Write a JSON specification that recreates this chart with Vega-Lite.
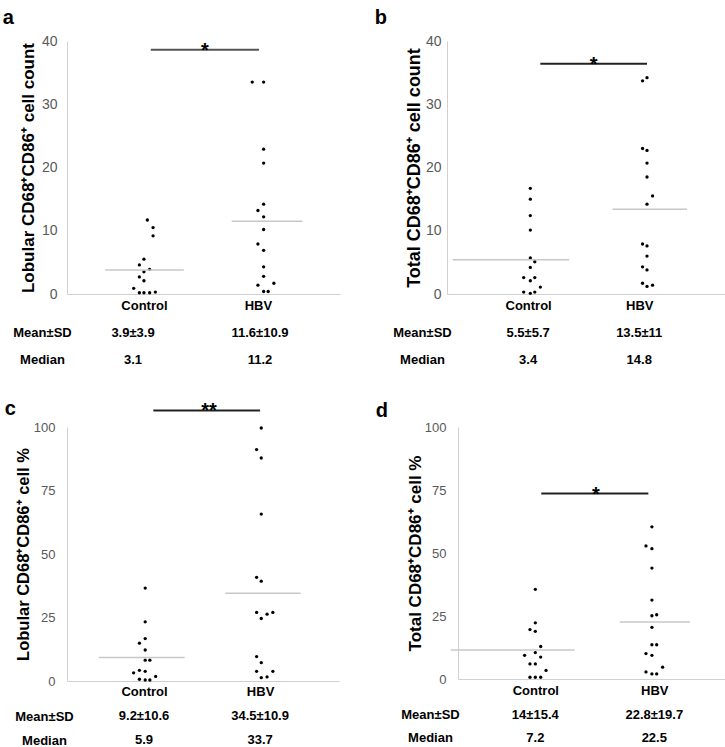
{
  "$schema": "https://vega.github.io/schema/vega-lite/v6.json",
  "padding": {"left": 2, "top": 8, "right": 0, "bottom": 0},
  "background": "white",
  "config": {
    "font": "Liberation Sans",
    "view": {"stroke": null},
    "axis": {"grid": false, "ticks": false, "tickSize": 0, "domainColor": "#d0d0d0", "domainWidth": 1, "labelColor": "#595959", "labelFont": "Liberation Sans", "titleFont": "Liberation Sans"},
    "title": {"font": "Liberation Sans", "fontWeight": "bold", "fontSize": 20, "anchor": "start", "color": "black"}
  },
  "datasets": {
    "points": [
      {"panel": "a", "group": "Control", "pos": 1.03, "value": 11.7},
      {"panel": "a", "group": "Control", "pos": 1.08, "value": 10.5},
      {"panel": "a", "group": "Control", "pos": 1.08, "value": 9.2},
      {"panel": "a", "group": "Control", "pos": 1.0, "value": 5.5},
      {"panel": "a", "group": "Control", "pos": 0.96, "value": 4.6},
      {"panel": "a", "group": "Control", "pos": 1.05, "value": 3.9},
      {"panel": "a", "group": "Control", "pos": 1.0, "value": 3.5},
      {"panel": "a", "group": "Control", "pos": 0.96, "value": 2.7},
      {"panel": "a", "group": "Control", "pos": 1.0, "value": 2.1},
      {"panel": "a", "group": "Control", "pos": 0.91, "value": 0.9},
      {"panel": "a", "group": "Control", "pos": 0.96, "value": 0.2},
      {"panel": "a", "group": "Control", "pos": 1.0, "value": 0.2},
      {"panel": "a", "group": "Control", "pos": 1.05, "value": 0.2},
      {"panel": "a", "group": "Control", "pos": 1.1, "value": 0.3},
      {"panel": "a", "group": "HBV", "pos": 1.95, "value": 33.5},
      {"panel": "a", "group": "HBV", "pos": 2.05, "value": 33.5},
      {"panel": "a", "group": "HBV", "pos": 2.05, "value": 22.9},
      {"panel": "a", "group": "HBV", "pos": 2.05, "value": 20.7},
      {"panel": "a", "group": "HBV", "pos": 2.05, "value": 14.2},
      {"panel": "a", "group": "HBV", "pos": 2.0, "value": 13.2},
      {"panel": "a", "group": "HBV", "pos": 2.05, "value": 12.2},
      {"panel": "a", "group": "HBV", "pos": 2.05, "value": 10.2},
      {"panel": "a", "group": "HBV", "pos": 2.0, "value": 7.9},
      {"panel": "a", "group": "HBV", "pos": 2.05, "value": 6.9},
      {"panel": "a", "group": "HBV", "pos": 2.05, "value": 4.3},
      {"panel": "a", "group": "HBV", "pos": 2.05, "value": 2.8},
      {"panel": "a", "group": "HBV", "pos": 2.0, "value": 1.4},
      {"panel": "a", "group": "HBV", "pos": 2.14, "value": 1.7},
      {"panel": "a", "group": "HBV", "pos": 2.05, "value": 0.4},
      {"panel": "a", "group": "HBV", "pos": 2.09, "value": 0.4},
      {"panel": "b", "group": "Control", "pos": 1.02, "value": 16.7},
      {"panel": "b", "group": "Control", "pos": 1.02, "value": 15.0},
      {"panel": "b", "group": "Control", "pos": 1.02, "value": 12.4},
      {"panel": "b", "group": "Control", "pos": 1.02, "value": 10.1},
      {"panel": "b", "group": "Control", "pos": 1.02, "value": 5.7},
      {"panel": "b", "group": "Control", "pos": 1.06, "value": 5.1},
      {"panel": "b", "group": "Control", "pos": 1.02, "value": 4.2},
      {"panel": "b", "group": "Control", "pos": 0.96, "value": 2.6},
      {"panel": "b", "group": "Control", "pos": 1.06, "value": 2.6},
      {"panel": "b", "group": "Control", "pos": 1.02, "value": 2.1},
      {"panel": "b", "group": "Control", "pos": 1.11, "value": 1.1},
      {"panel": "b", "group": "Control", "pos": 0.96, "value": 0.3},
      {"panel": "b", "group": "Control", "pos": 1.02, "value": 0.1},
      {"panel": "b", "group": "Control", "pos": 1.06, "value": 0.3},
      {"panel": "b", "group": "HBV", "pos": 2.07, "value": 34.2},
      {"panel": "b", "group": "HBV", "pos": 2.03, "value": 33.7},
      {"panel": "b", "group": "HBV", "pos": 2.03, "value": 23.0},
      {"panel": "b", "group": "HBV", "pos": 2.07, "value": 22.7},
      {"panel": "b", "group": "HBV", "pos": 2.07, "value": 20.7},
      {"panel": "b", "group": "HBV", "pos": 2.07, "value": 18.5},
      {"panel": "b", "group": "HBV", "pos": 2.12, "value": 15.5},
      {"panel": "b", "group": "HBV", "pos": 2.07, "value": 14.2},
      {"panel": "b", "group": "HBV", "pos": 2.03, "value": 7.9},
      {"panel": "b", "group": "HBV", "pos": 2.07, "value": 7.6},
      {"panel": "b", "group": "HBV", "pos": 2.07, "value": 6.0},
      {"panel": "b", "group": "HBV", "pos": 2.03, "value": 4.3},
      {"panel": "b", "group": "HBV", "pos": 2.07, "value": 3.8},
      {"panel": "b", "group": "HBV", "pos": 2.03, "value": 1.7},
      {"panel": "b", "group": "HBV", "pos": 2.07, "value": 1.2},
      {"panel": "b", "group": "HBV", "pos": 2.12, "value": 1.4},
      {"panel": "c", "group": "Control", "pos": 1.01, "value": 36.6},
      {"panel": "c", "group": "Control", "pos": 1.01, "value": 23.3},
      {"panel": "c", "group": "Control", "pos": 1.01, "value": 16.7},
      {"panel": "c", "group": "Control", "pos": 0.96, "value": 14.9},
      {"panel": "c", "group": "Control", "pos": 1.01, "value": 12.2},
      {"panel": "c", "group": "Control", "pos": 1.01, "value": 8.2},
      {"panel": "c", "group": "Control", "pos": 1.05, "value": 8.2},
      {"panel": "c", "group": "Control", "pos": 0.91, "value": 3.2},
      {"panel": "c", "group": "Control", "pos": 0.96, "value": 4.2},
      {"panel": "c", "group": "Control", "pos": 1.01, "value": 3.8},
      {"panel": "c", "group": "Control", "pos": 0.96, "value": 0.7},
      {"panel": "c", "group": "Control", "pos": 1.01, "value": 0.4},
      {"panel": "c", "group": "Control", "pos": 1.05, "value": 0.4},
      {"panel": "c", "group": "Control", "pos": 1.1, "value": 1.8},
      {"panel": "c", "group": "HBV", "pos": 2.01, "value": 99.6},
      {"panel": "c", "group": "HBV", "pos": 1.97, "value": 91.1},
      {"panel": "c", "group": "HBV", "pos": 2.01, "value": 87.8},
      {"panel": "c", "group": "HBV", "pos": 2.01, "value": 65.7},
      {"panel": "c", "group": "HBV", "pos": 1.97, "value": 40.8},
      {"panel": "c", "group": "HBV", "pos": 2.01, "value": 39.3},
      {"panel": "c", "group": "HBV", "pos": 1.97, "value": 27.0},
      {"panel": "c", "group": "HBV", "pos": 2.01, "value": 24.6},
      {"panel": "c", "group": "HBV", "pos": 2.06, "value": 26.3},
      {"panel": "c", "group": "HBV", "pos": 2.11, "value": 27.0},
      {"panel": "c", "group": "HBV", "pos": 1.97, "value": 9.6},
      {"panel": "c", "group": "HBV", "pos": 2.01, "value": 7.2},
      {"panel": "c", "group": "HBV", "pos": 1.97, "value": 3.8},
      {"panel": "c", "group": "HBV", "pos": 2.01, "value": 1.3},
      {"panel": "c", "group": "HBV", "pos": 2.06, "value": 1.6},
      {"panel": "c", "group": "HBV", "pos": 2.11, "value": 3.8},
      {"panel": "d", "group": "Control", "pos": 1.0, "value": 35.6},
      {"panel": "d", "group": "Control", "pos": 1.0, "value": 22.3},
      {"panel": "d", "group": "Control", "pos": 0.955, "value": 19.6},
      {"panel": "d", "group": "Control", "pos": 1.0, "value": 18.9},
      {"panel": "d", "group": "Control", "pos": 1.045, "value": 12.9},
      {"panel": "d", "group": "Control", "pos": 1.0, "value": 10.5},
      {"panel": "d", "group": "Control", "pos": 0.91, "value": 9.4},
      {"panel": "d", "group": "Control", "pos": 1.045, "value": 8.7},
      {"panel": "d", "group": "Control", "pos": 0.955, "value": 6.0},
      {"panel": "d", "group": "Control", "pos": 1.0, "value": 6.0},
      {"panel": "d", "group": "Control", "pos": 1.09, "value": 3.4},
      {"panel": "d", "group": "Control", "pos": 0.955, "value": 0.7},
      {"panel": "d", "group": "Control", "pos": 1.0, "value": 0.7},
      {"panel": "d", "group": "Control", "pos": 1.045, "value": 0.7},
      {"panel": "d", "group": "HBV", "pos": 1.98, "value": 60.4},
      {"panel": "d", "group": "HBV", "pos": 1.93, "value": 52.8},
      {"panel": "d", "group": "HBV", "pos": 1.98, "value": 51.7},
      {"panel": "d", "group": "HBV", "pos": 1.98, "value": 44.0},
      {"panel": "d", "group": "HBV", "pos": 1.98, "value": 31.3},
      {"panel": "d", "group": "HBV", "pos": 1.98, "value": 25.1},
      {"panel": "d", "group": "HBV", "pos": 2.02, "value": 25.5},
      {"panel": "d", "group": "HBV", "pos": 1.98, "value": 20.5},
      {"panel": "d", "group": "HBV", "pos": 1.98, "value": 13.6},
      {"panel": "d", "group": "HBV", "pos": 2.02, "value": 13.6},
      {"panel": "d", "group": "HBV", "pos": 1.93, "value": 10.1},
      {"panel": "d", "group": "HBV", "pos": 1.98, "value": 9.4},
      {"panel": "d", "group": "HBV", "pos": 1.93, "value": 2.8},
      {"panel": "d", "group": "HBV", "pos": 1.98, "value": 2.0},
      {"panel": "d", "group": "HBV", "pos": 2.02, "value": 2.0},
      {"panel": "d", "group": "HBV", "pos": 2.07, "value": 4.7}
    ],
    "means": [
      {"panel": "a", "group": "Control", "x1": 0.66, "x2": 1.35, "mean": 3.8},
      {"panel": "a", "group": "HBV", "x1": 1.77, "x2": 2.39, "mean": 11.5},
      {"panel": "b", "group": "Control", "x1": 0.32, "x2": 1.37, "mean": 5.4},
      {"panel": "b", "group": "HBV", "x1": 1.76, "x2": 2.43, "mean": 13.4},
      {"panel": "c", "group": "Control", "x1": 0.61, "x2": 1.35, "mean": 9.3},
      {"panel": "c", "group": "HBV", "x1": 1.70, "x2": 2.35, "mean": 34.5},
      {"panel": "d", "group": "Control", "x1": 0.29, "x2": 1.33, "mean": 11.5},
      {"panel": "d", "group": "HBV", "x1": 1.71, "x2": 2.30, "mean": 22.6}
    ],
    "sig": [
      {"panel": "a", "x1": 1.06, "x2": 2.01, "mid": 1.535, "y": 38.6, "label": "*"},
      {"panel": "b", "x1": 1.11, "x2": 2.07, "mid": 1.59, "y": 36.4, "label": "*"},
      {"panel": "c", "x1": 1.08, "x2": 2.0, "mid": 1.56, "y": 106.5, "label": "**"},
      {"panel": "d", "x1": 1.05, "x2": 1.95, "mid": 1.51, "y": 73.6, "label": "*"}
    ],
    "table": [
      {"panel": "a", "stat": "Mean±SD", "grp": 1, "text": "3.9±3.9"},
      {"panel": "a", "stat": "Mean±SD", "grp": 2, "text": "11.6±10.9"},
      {"panel": "a", "stat": "Median", "grp": 1, "text": "3.1"},
      {"panel": "a", "stat": "Median", "grp": 2, "text": "11.2"},
      {"panel": "b", "stat": "Mean±SD", "grp": 1, "text": "5.5±5.7"},
      {"panel": "b", "stat": "Mean±SD", "grp": 2, "text": "13.5±11"},
      {"panel": "b", "stat": "Median", "grp": 1, "text": "3.4"},
      {"panel": "b", "stat": "Median", "grp": 2, "text": "14.8"},
      {"panel": "c", "stat": "Mean±SD", "grp": 1, "text": "9.2±10.6"},
      {"panel": "c", "stat": "Mean±SD", "grp": 2, "text": "34.5±10.9"},
      {"panel": "c", "stat": "Median", "grp": 1, "text": "5.9"},
      {"panel": "c", "stat": "Median", "grp": 2, "text": "33.7"},
      {"panel": "d", "stat": "Mean±SD", "grp": 1, "text": "14±15.4"},
      {"panel": "d", "stat": "Mean±SD", "grp": 2, "text": "22.8±19.7"},
      {"panel": "d", "stat": "Median", "grp": 1, "text": "7.2"},
      {"panel": "d", "stat": "Median", "grp": 2, "text": "22.5"}
    ]
  },
  "spacing": 26,
  "vconcat": [
    {
      "spacing": 34,
      "hconcat": [
        {
          "title": {"text": "a", "dx": -10, "offset": 6},
          "spacing": 7,
          "vconcat": [
            {
              "width": 273, "height": 253,
              "layer": [
                {"data": {"name": "points"}, "transform": [{"filter": "datum.panel == 'a'"}],
                 "mark": {"type": "circle", "size": 11, "color": "black", "opacity": 1},
                 "encoding": {
                   "x": {"field": "pos", "type": "quantitative", "scale": {"domain": [0.325, 2.72], "nice": false, "zero": false},
                         "axis": {"title": null, "values": [1, 2], "labelExpr": "datum.value == 1 ? 'Control' : 'HBV'", "labelFontWeight": "bold", "labelFontSize": 13, "labelColor": "black", "labelPadding": 5, "labelFlush": false}},
                   "y": {"field": "value", "type": "quantitative", "scale": {"domain": [0, 40], "nice": false},
                         "axis": {"title": "Lobular CD68⁺CD86⁺ cell count", "values": [0, 10, 20, 30, 40], "titleFontSize": 17, "titleFontWeight": "bold", "titleColor": "black", "titlePadding": 4, "labelFontSize": 14, "labelPadding": 10}}
                 }},
                {"data": {"name": "means"}, "transform": [{"filter": "datum.panel == 'a'"}],
                 "mark": {"type": "rule", "color": "#c8c8c8", "strokeWidth": 1.5},
                 "encoding": {"x": {"field": "x1", "type": "quantitative"}, "x2": {"field": "x2"}, "y": {"field": "mean", "type": "quantitative"}}},
                {"data": {"name": "sig"}, "transform": [{"filter": "datum.panel == 'a'"}],
                 "mark": {"type": "rule", "color": "#555555", "strokeWidth": 2, "clip": false},
                 "encoding": {"x": {"field": "x1", "type": "quantitative"}, "x2": {"field": "x2"}, "y": {"field": "y", "type": "quantitative"}}},
                {"data": {"name": "sig"}, "transform": [{"filter": "datum.panel == 'a'"}],
                 "mark": {"type": "text", "fontWeight": "bold", "fontSize": 20, "baseline": "alphabetic", "dy": 7, "color": "black"},
                 "encoding": {"x": {"field": "mid", "type": "quantitative"}, "y": {"field": "y", "type": "quantitative"}, "text": {"field": "label"}}}
              ]
            },
            {
              "width": 273, "height": 54,
              "data": {"name": "table"}, "transform": [{"filter": "datum.panel == 'a'"}],
              "mark": {"type": "text", "fontWeight": "bold", "fontSize": 13, "color": "black"},
              "encoding": {
                "x": {"field": "grp", "type": "quantitative", "scale": {"domain": [0.48, 2.63], "nice": false, "zero": false}, "axis": null},
                "y": {"field": "stat", "type": "nominal", "sort": ["Mean±SD", "Median"], "scale": {"paddingInner": 0, "paddingOuter": 0},
                      "axis": {"title": null, "domain": false, "labelFontWeight": "bold", "labelFontSize": 13, "labelColor": "black", "labelAlign": "center", "labelPadding": 25}},
                "text": {"field": "text"}
              }
            }
          ]
        },
        {
          "title": {"text": "b", "dx": -18, "offset": 6},
          "spacing": 7,
          "vconcat": [
            {
              "width": 280, "height": 253,
              "layer": [
                {"data": {"name": "points"}, "transform": [{"filter": "datum.panel == 'b'"}],
                 "mark": {"type": "circle", "size": 11, "color": "black", "opacity": 1},
                 "encoding": {
                   "x": {"field": "pos", "type": "quantitative", "scale": {"domain": [0.27, 2.79], "nice": false, "zero": false},
                         "axis": {"title": null, "values": [1, 2], "labelExpr": "datum.value == 1 ? 'Control' : 'HBV'", "labelFontWeight": "bold", "labelFontSize": 13, "labelColor": "black", "labelPadding": 5, "labelFlush": false}},
                   "y": {"field": "value", "type": "quantitative", "scale": {"domain": [0, 40], "nice": false},
                         "axis": {"title": "Total CD68⁺CD86⁺ cell count", "values": [0, 10, 20, 30, 40], "titleFontSize": 18, "titleFontWeight": "bold", "titleColor": "black", "titlePadding": 2, "labelFontSize": 14, "labelPadding": 6}}
                 }},
                {"data": {"name": "means"}, "transform": [{"filter": "datum.panel == 'b'"}],
                 "mark": {"type": "rule", "color": "#c8c8c8", "strokeWidth": 1.5},
                 "encoding": {"x": {"field": "x1", "type": "quantitative"}, "x2": {"field": "x2"}, "y": {"field": "mean", "type": "quantitative"}}},
                {"data": {"name": "sig"}, "transform": [{"filter": "datum.panel == 'b'"}],
                 "mark": {"type": "rule", "color": "#222222", "strokeWidth": 2, "clip": false},
                 "encoding": {"x": {"field": "x1", "type": "quantitative"}, "x2": {"field": "x2"}, "y": {"field": "y", "type": "quantitative"}}},
                {"data": {"name": "sig"}, "transform": [{"filter": "datum.panel == 'b'"}],
                 "mark": {"type": "text", "fontWeight": "bold", "fontSize": 20, "baseline": "alphabetic", "dy": 7, "color": "black"},
                 "encoding": {"x": {"field": "mid", "type": "quantitative"}, "y": {"field": "y", "type": "quantitative"}, "text": {"field": "label"}}}
              ]
            },
            {
              "width": 280, "height": 54,
              "data": {"name": "table"}, "transform": [{"filter": "datum.panel == 'b'"}],
              "mark": {"type": "text", "fontWeight": "bold", "fontSize": 13, "color": "black"},
              "encoding": {
                "x": {"field": "grp", "type": "quantitative", "scale": {"domain": [0.27, 2.79], "nice": false, "zero": false}, "axis": null},
                "y": {"field": "stat", "type": "nominal", "sort": ["Mean±SD", "Median"], "scale": {"paddingInner": 0, "paddingOuter": 0},
                      "axis": {"title": null, "domain": false, "labelFontWeight": "bold", "labelFontSize": 13, "labelColor": "black", "labelAlign": "center", "labelPadding": 25}},
                "text": {"field": "text"}
              }
            }
          ]
        }
      ]
    },
    {
      "spacing": 36,
      "hconcat": [
        {
          "title": {"text": "c", "dx": -10, "offset": -18},
          "spacing": 6,
          "vconcat": [
            {
              "width": 272, "height": 254,
              "layer": [
                {"data": {"name": "points"}, "transform": [{"filter": "datum.panel == 'c'"}],
                 "mark": {"type": "circle", "size": 11, "color": "black", "opacity": 1},
                 "encoding": {
                   "x": {"field": "pos", "type": "quantitative", "scale": {"domain": [0.336, 2.68], "nice": false, "zero": false},
                         "axis": {"title": null, "values": [1, 2], "labelExpr": "datum.value == 1 ? 'Control' : 'HBV'", "labelFontWeight": "bold", "labelFontSize": 13, "labelColor": "black", "labelPadding": 4, "labelFlush": false}},
                   "y": {"field": "value", "type": "quantitative", "scale": {"domain": [0, 100], "nice": false},
                         "axis": {"title": "Lobular CD68⁺CD86⁺ cell %", "values": [0, 25, 50, 75, 100], "titleFontSize": 16.5, "titleFontWeight": "bold", "titleColor": "black", "titlePadding": 2, "labelFontSize": 13, "labelPadding": 12}}
                 }},
                {"data": {"name": "means"}, "transform": [{"filter": "datum.panel == 'c'"}],
                 "mark": {"type": "rule", "color": "#c8c8c8", "strokeWidth": 1.5},
                 "encoding": {"x": {"field": "x1", "type": "quantitative"}, "x2": {"field": "x2"}, "y": {"field": "mean", "type": "quantitative"}}},
                {"data": {"name": "sig"}, "transform": [{"filter": "datum.panel == 'c'"}],
                 "mark": {"type": "rule", "color": "#222222", "strokeWidth": 2, "clip": false},
                 "encoding": {"x": {"field": "x1", "type": "quantitative"}, "x2": {"field": "x2"}, "y": {"field": "y", "type": "quantitative"}}},
                {"data": {"name": "sig"}, "transform": [{"filter": "datum.panel == 'c'"}],
                 "mark": {"type": "text", "fontWeight": "bold", "fontSize": 20, "baseline": "alphabetic", "dy": 7, "color": "black"},
                 "encoding": {"x": {"field": "mid", "type": "quantitative"}, "y": {"field": "y", "type": "quantitative"}, "text": {"field": "label"}}}
              ]
            },
            {
              "width": 272, "height": 48,
              "data": {"name": "table"}, "transform": [{"filter": "datum.panel == 'c'"}],
              "mark": {"type": "text", "fontWeight": "bold", "fontSize": 13, "color": "black"},
              "encoding": {
                "x": {"field": "grp", "type": "quantitative", "scale": {"domain": [0.336, 2.68], "nice": false, "zero": false}, "axis": null},
                "y": {"field": "stat", "type": "nominal", "sort": ["Mean±SD", "Median"], "scale": {"paddingInner": 0, "paddingOuter": 0},
                      "axis": {"title": null, "domain": false, "labelFontWeight": "bold", "labelFontSize": 13, "labelColor": "black", "labelAlign": "center", "labelPadding": 23}},
                "text": {"field": "text"}
              }
            }
          ]
        },
        {
          "title": {"text": "d", "dx": -25, "offset": 0},
          "spacing": 6,
          "vconcat": [
            {
              "width": 276, "height": 252,
              "layer": [
                {"data": {"name": "points"}, "transform": [{"filter": "datum.panel == 'd'"}],
                 "mark": {"type": "circle", "size": 11, "color": "black", "opacity": 1},
                 "encoding": {
                   "x": {"field": "pos", "type": "quantitative", "scale": {"domain": [0.35, 2.67], "nice": false, "zero": false},
                         "axis": {"title": null, "values": [1, 2], "labelExpr": "datum.value == 1 ? 'Control' : 'HBV'", "labelFontWeight": "bold", "labelFontSize": 13, "labelColor": "black", "labelPadding": 5, "labelFlush": false}},
                   "y": {"field": "value", "type": "quantitative", "scale": {"domain": [0, 100], "nice": false},
                         "axis": {"title": "Total CD68⁺CD86⁺ cell %", "values": [0, 25, 50, 75, 100], "titleFontSize": 17, "titleFontWeight": "bold", "titleColor": "black", "titlePadding": 0, "labelFontSize": 13, "labelPadding": 12}}
                 }},
                {"data": {"name": "means"}, "transform": [{"filter": "datum.panel == 'd'"}],
                 "mark": {"type": "rule", "color": "#c8c8c8", "strokeWidth": 1.5},
                 "encoding": {"x": {"field": "x1", "type": "quantitative"}, "x2": {"field": "x2"}, "y": {"field": "mean", "type": "quantitative"}}},
                {"data": {"name": "sig"}, "transform": [{"filter": "datum.panel == 'd'"}],
                 "mark": {"type": "rule", "color": "#222222", "strokeWidth": 2, "clip": false},
                 "encoding": {"x": {"field": "x1", "type": "quantitative"}, "x2": {"field": "x2"}, "y": {"field": "y", "type": "quantitative"}}},
                {"data": {"name": "sig"}, "transform": [{"filter": "datum.panel == 'd'"}],
                 "mark": {"type": "text", "fontWeight": "bold", "fontSize": 20, "baseline": "alphabetic", "dy": 7, "color": "black"},
                 "encoding": {"x": {"field": "mid", "type": "quantitative"}, "y": {"field": "y", "type": "quantitative"}, "text": {"field": "label"}}}
              ]
            },
            {
              "width": 276, "height": 46,
              "data": {"name": "table"}, "transform": [{"filter": "datum.panel == 'd'"}],
              "mark": {"type": "text", "fontWeight": "bold", "fontSize": 13, "color": "black"},
              "encoding": {
                "x": {"field": "grp", "type": "quantitative", "scale": {"domain": [0.35, 2.67], "nice": false, "zero": false}, "axis": null},
                "y": {"field": "stat", "type": "nominal", "sort": ["Mean±SD", "Median"], "scale": {"paddingInner": 0, "paddingOuter": 0},
                      "axis": {"title": null, "domain": false, "labelFontWeight": "bold", "labelFontSize": 13, "labelColor": "black", "labelAlign": "center", "labelPadding": 28}},
                "text": {"field": "text"}
              }
            }
          ]
        }
      ]
    }
  ]
}
